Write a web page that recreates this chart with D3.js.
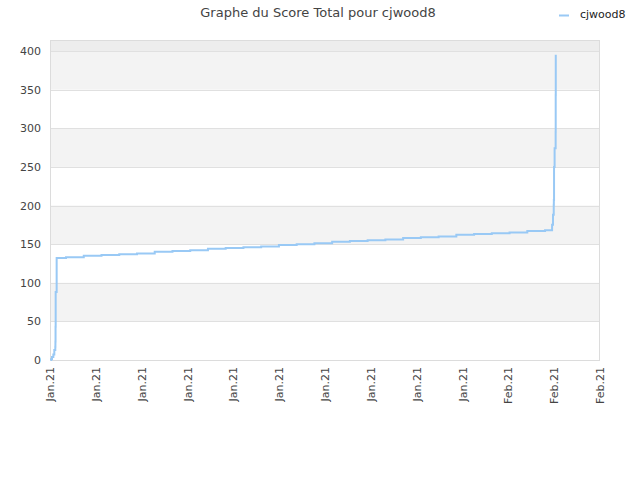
<!DOCTYPE html>
<html><head><meta charset="utf-8">
<script src="https://cdn.jsdelivr.net/npm/d3@7"></script>
<style>body{margin:0;background:#fff}svg{display:block}text{font-family:"DejaVu Sans",sans-serif}</style>
</head><body><svg id="c" width="640" height="480"></svg>
<script>
const title = "Graphe du Score Total pour cjwood8";
const seriesName = "cjwood8";
const times = [
 "2021-01-07T00:40","2021-01-07T01:20","2021-01-07T02:40","2021-01-07T04:30","2021-01-07T05:50",
 "2021-01-07T07:10","2021-01-07T07:20","2021-01-07T07:30","2021-01-07T07:40","2021-01-07T09:00",
 "2021-01-07T21:40","2021-01-08T21:40","2021-01-09T21:40","2021-01-10T21:40","2021-01-11T21:40",
 "2021-01-12T21:40","2021-01-13T21:40","2021-01-14T21:40","2021-01-15T21:40","2021-01-16T21:40",
 "2021-01-17T21:40","2021-01-18T21:40","2021-01-19T21:40","2021-01-20T21:40","2021-01-21T21:40",
 "2021-01-22T21:40","2021-01-23T21:40","2021-01-24T21:40","2021-01-25T21:40","2021-01-26T21:40",
 "2021-01-27T21:40","2021-01-28T21:40","2021-01-29T21:40","2021-01-30T21:40","2021-01-31T21:40",
 "2021-02-01T21:40","2021-02-02T21:40","2021-02-03T21:40",
 "2021-02-04T07:10","2021-02-04T08:25","2021-02-04T09:25","2021-02-04T09:35","2021-02-04T09:50",
 "2021-02-04T10:35","2021-02-04T12:00","2021-02-04T12:05","2021-02-04T12:10"
];
const scores = [
 0,1,4,7,13,
 17,24,43,88,132,
 133,135,136,137,138,
 140,141,142,144,145,
 146,147,149,150,151,
 153,154,155,156,158,
 159,160,162,163,164,
 165,167,168,
 175,188,201,207,250,
 274,295,343,395
];
const yTicks = [0,50,100,150,200,250,300,350,400];
const xStart = "2021-01-07T00:00", xEnd = "2021-02-07T00:00";

const svg = d3.select("#c");
const L = 50, R = 600, T = 40, B = 360;
const parse = s => new Date(s + "Z");
const data = times.map((t,i)=>({t:parse(t), v:scores[i]}));
const x = d3.scaleUtc().domain([parse(xStart), parse(xEnd)]).range([L,R]);
const y = d3.scaleLinear().domain([0,400]).range([B,51]);
const yTop = y.invert(T);

// background bands
svg.append("rect").attr("x",L).attr("y",T).attr("width",R-L).attr("height",y(400)-T).attr("fill","#ededed");
for (let i=0;i<yTicks.length-1;i++){
  if (i%2===1) svg.append("rect").attr("x",L).attr("y",y(yTicks[i+1])).attr("width",R-L)
    .attr("height",y(yTicks[i])-y(yTicks[i+1])).attr("fill","#f3f3f3");
}
// grid
svg.append("g").selectAll("line").data(yTicks.concat([yTop])).join("line")
  .attr("x1",L).attr("x2",R).attr("y1",d=>Math.round(y(d))+0.5).attr("y2",d=>Math.round(y(d))+0.5)
  .attr("stroke","#e0e0e0").attr("stroke-width",1);
// border
svg.append("rect").attr("x",L+0.5).attr("y",T+0.5).attr("width",R-L-1).attr("height",B-T)
  .attr("fill","none").attr("stroke","#dcdcdc");

// y axis labels
svg.append("g").selectAll("text").data(yTicks).join("text")
  .attr("x",41).attr("y",d=>y(d)+4).attr("text-anchor","end")
  .attr("font-size",11).attr("fill","#444").text(d=>d);

// x ticks
const t0 = +parse(xStart), t1 = +parse(xEnd);
const xTickVals = d3.range(13).map(i => new Date(t0 + i*(t1-t0)/12));
const fmt = d3.utcFormat("%b.%y");
svg.append("g").selectAll("text").data(xTickVals).join("text")
  .attr("transform",d=>`translate(${x(d)+4},367) rotate(-90)`)
  .attr("text-anchor","end").attr("font-size",11).attr("fill","#444").text(d=>fmt(d));

// line
const line = d3.line().x(d=>x(d.t)).y(d=>y(d.v)).curve(d3.curveStepAfter);
svg.append("path").datum(data).attr("d",line).attr("fill","none")
  .attr("stroke","#99c9f5").attr("stroke-width",2);

// title
svg.append("text").attr("x",318).attr("y",17).attr("text-anchor","middle")
  .attr("font-size",13).attr("fill","#444").text(title);
// legend
svg.append("line").attr("x1",559).attr("x2",569).attr("y1",15.5).attr("y2",15.5)
  .attr("stroke","#99c9f5").attr("stroke-width",2);
svg.append("text").attr("x",580).attr("y",18).attr("font-size",11).attr("fill","#222").text(seriesName);
</script></body></html>
